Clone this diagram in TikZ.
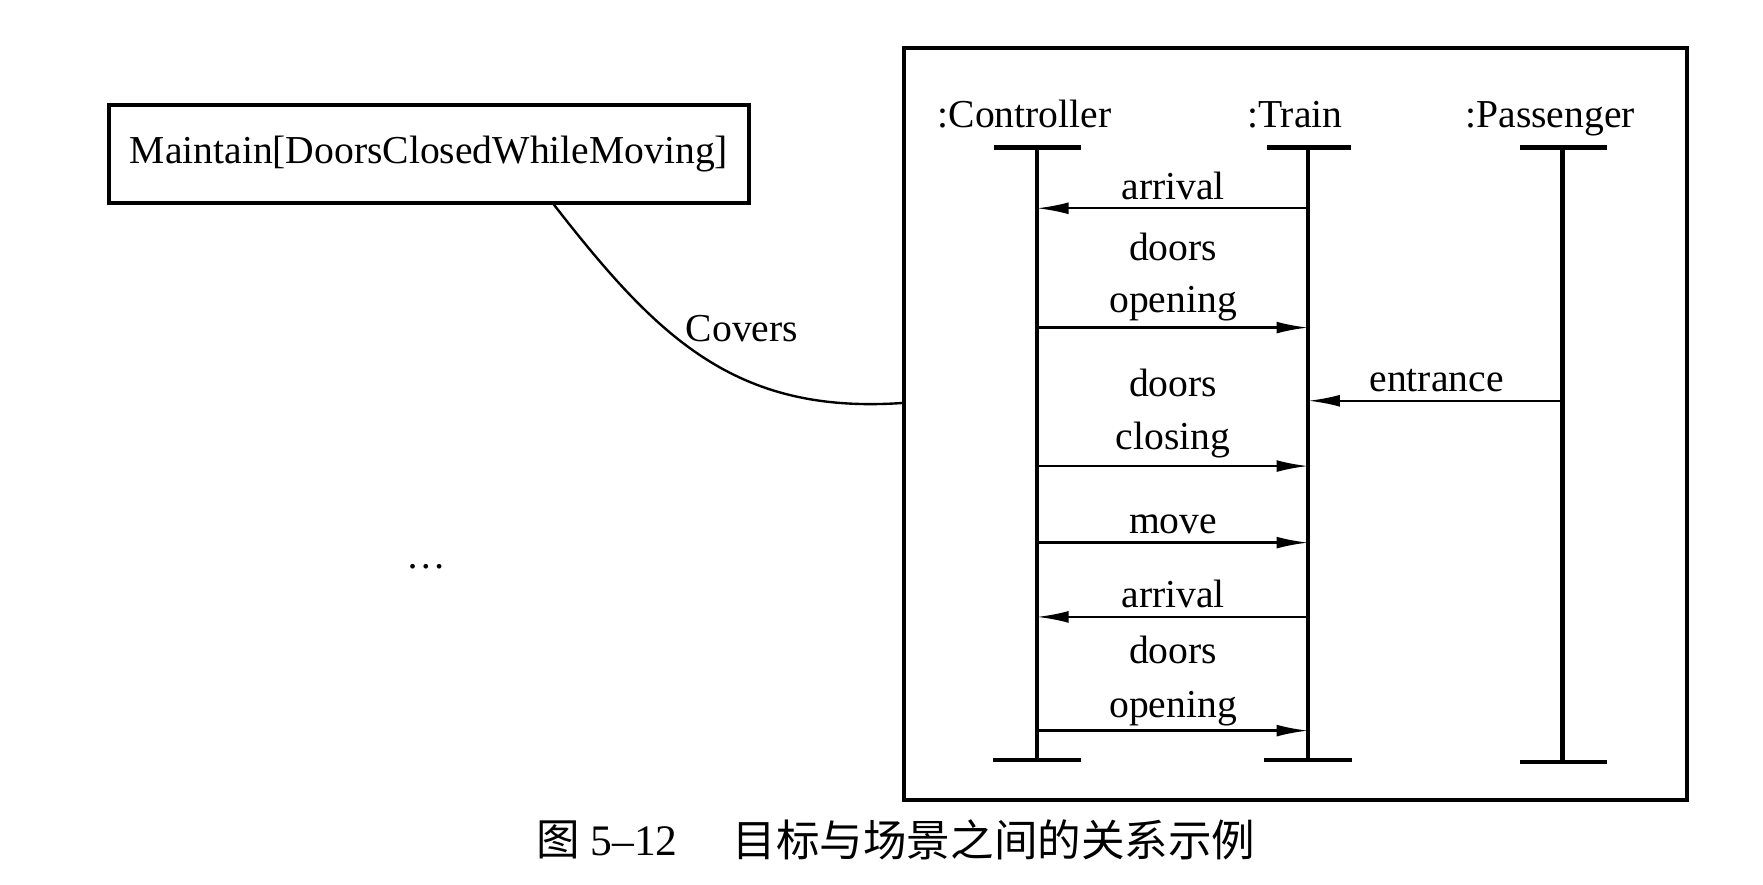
\documentclass[tikz,border=0pt]{standalone}
\usepackage{fontspec}
\setmainfont{Liberation Serif}
\newfontfamily\cjk{Noto Sans CJK SC}
\usetikzlibrary{arrows.meta}
\tikzset{
	lifeline/.style={line width=1.1pt},
	msg/.style={line width=0.6pt,-{Latex[length=8pt,width=3pt]}},
	lbl/.style={inner sep=0pt,anchor=base,font=\fontsize{10}{12}\selectfont},
	box/.style={draw,line width=1pt,inner sep=0pt},
}
\begin{document}
\begin{tikzpicture}[x=0.01cm,y=-0.01cm]
			\useasboundingbox (0,0) rectangle (1566,786);
			\node[box,lbl,anchor=center,minimum width=5.68cm,minimum height=0.87cm] (goal) at (381,136.5) {Maintain[DoorsClosedWhileMoving]};
			\node[box,minimum width=6.95cm,minimum height=6.67cm] (scn) at (1150.5,376.5) {};
			\node[lbl] (ctlname) at (910,113) {:Controller};
			\node[lbl] (trnname) at (1150,113) {:Train};
			\node[lbl] (psgname) at (1377,113) {:Passenger};
			\coordinate (ctl) at (921,131);
			\coordinate (trn) at (1162,131);
			\coordinate (psg) at (1388,131);
			\coordinate (ctlend) at (921,675);
			\coordinate (trnend) at (1162,675);
			\coordinate (psgend) at (1388,677);
			\draw[lifeline] (ctl) -- (ctlend);
			\draw[lifeline] (trn) -- (trnend);
			\draw[lifeline] (psg) -- (psgend);
			\draw[lifeline] (ctl) ++(-38,0) -- ++(77,0);
			\draw[lifeline] (trn) ++(-37,0) -- ++(75,0);
			\draw[lifeline] (psg) ++(-38,0) -- ++(77,0);
			\draw[lifeline] (ctlend) ++(-39,0) -- ++(78,0);
			\draw[lifeline] (trnend) ++(-39,0) -- ++(78,0);
			\draw[lifeline] (psgend) ++(-38,0) -- ++(77,0);
			\draw[msg] (trn |- 0,185) -- (ctl |- 0,185);
			\node[lbl] (m1) at (1042,177) {arrival};
			\draw[msg] (ctl |- 0,291) -- (trn |- 0,291);
			\node[lbl] (m2a) at (1042,231) {doors};
			\node[lbl] (m2b) at (1042,278) {opening};
			\draw[msg] (psg |- 0,356) -- (trn |- 0,356);
			\node[lbl] (m3) at (1276,348) {entrance};
			\draw[msg] (ctl |- 0,414) -- (trn |- 0,414);
			\node[lbl] (m4a) at (1042,352) {doors};
			\node[lbl] (m4b) at (1042,399) {closing};
			\draw[msg] (ctl |- 0,482) -- (trn |- 0,482);
			\node[lbl] (m5) at (1042,474) {move};
			\draw[msg] (trn |- 0,548) -- (ctl |- 0,548);
			\node[lbl] (m6) at (1042,540) {arrival};
			\draw[msg] (ctl |- 0,649) -- (trn |- 0,649);
			\node[lbl] (m7a) at (1042,589) {doors};
			\node[lbl] (m7b) at (1042,637) {opening};
			\draw[line width=0.6pt] (goal.south -| 492,0) .. controls (584,300) and (653,368) .. (scn.west |- 0,358);
			\node[lbl,anchor=center] (covers) at (659,292) {Covers};
			\node[lbl] (more) at (379,505) {\dots};
			\node[inner sep=0pt,font=\fontsize{11}{13}\selectfont] (capno) at (539,746) {{\cjk 图} 5--12};
			\node[inner sep=0pt,font=\fontsize{11}{13}\selectfont] (captxt) at (883,746) {\cjk 目标与场景之间的关系示例};
		\end{tikzpicture}
\end{document}
